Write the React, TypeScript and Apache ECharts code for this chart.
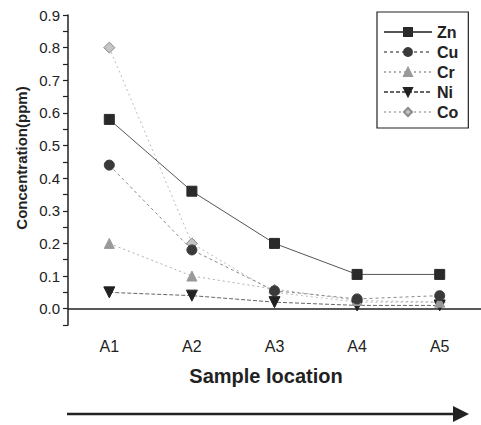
import React, { useEffect, useRef } from "react";
import * as echarts from "echarts";

const categories = ["A1", "A2", "A3", "A4", "A5"];
const seriesNames = ["Zn", "Cu", "Cr", "Ni", "Co"];
const zn = [0.58, 0.36, 0.2, 0.105, 0.105];
const cu = [0.44, 0.18, 0.055, 0.03, 0.04];
const cr = [0.2, 0.1, 0.06, 0.025, 0.02];
const ni = [0.05, 0.04, 0.02, 0.01, 0.01];
const co = [0.8, 0.2, 0.05, 0.02, 0.02];
const yTitle = "Concentration(ppm)";
const xTitle = "Sample location";

const FONT = 'Arial, "Liberation Sans", sans-serif';

export default function App() {
  const ref = useRef<HTMLDivElement>(null);
  useEffect(() => {
    if (!ref.current) return;
    const chart = echarts.init(ref.current, null, { renderer: "svg" });
    const values = [zn, cu, cr, ni, co];
    const styles = [
      { symbol: "rect", size: 10, rotate: 0, color: "#2a2a2a", border: "#2a2a2a", line: "#555", type: "solid" },
      { symbol: "circle", size: 10, rotate: 0, color: "#3a3a3a", border: "#3a3a3a", line: "#8a8a8a", type: [3, 3] },
      { symbol: "triangle", size: 10, rotate: 0, color: "#9a9a9a", border: "#9a9a9a", line: "#b0b0b0", type: [2, 3] },
      { symbol: "triangle", size: 11, rotate: 180, color: "#222", border: "#222", line: "#666", type: [4, 2] },
      { symbol: "diamond", size: 11, rotate: 0, color: "#c4c4c4", border: "#8a8a8a", line: "#bdbdbd", type: [2, 3] },
    ];
    const series = seriesNames.map((name, i) => ({
      name,
      type: "line",
      data: values[i],
      symbol: styles[i].symbol,
      symbolSize: styles[i].size,
      symbolRotate: styles[i].rotate,
      itemStyle: { color: styles[i].color, borderColor: styles[i].border, borderWidth: 1 },
      lineStyle: { color: styles[i].line, width: 1, type: styles[i].type },
      z: 10 - i,
    }));
    chart.setOption({
      animation: false,
      backgroundColor: "#fff",
      textStyle: { fontFamily: FONT },
      grid: { left: 68, top: 15, width: 416, bottom: 100 },
      legend: {
        orient: "vertical",
        left: 377,
        top: 12,
        data: seriesNames,
        itemWidth: 48,
        itemHeight: 10,
        itemGap: 2,
        padding: [11, 10, 7, 6],
        borderColor: "#222",
        borderWidth: 1.2,
        textStyle: { fontSize: 16, fontWeight: "bold", color: "#222", fontFamily: FONT, lineHeight: 18 },
      },
      xAxis: [
        {
          type: "category",
          data: categories,
          boundaryGap: true,
          axisLine: { lineStyle: { color: "#222", width: 1.5 } },
          axisTick: { alignWithLabel: true, length: 6, lineStyle: { color: "#222", width: 1.5 } },
          axisLabel: { fontSize: 16, color: "#222", margin: 13, fontFamily: FONT },
          splitLine: { show: false },
        },
        {
          type: "category",
          data: categories,
          position: "bottom",
          boundaryGap: true,
          axisLine: { show: false },
          axisTick: { alignWithLabel: false, length: 4, lineStyle: { color: "#222", width: 1.2 } },
          axisLabel: { show: false },
          splitLine: { show: false },
        },
      ],
      yAxis: {
        type: "value",
        min: -0.05,
        max: 0.9,
        interval: 0.05,
        axisLine: { show: true, lineStyle: { color: "#222", width: 1.5 } },
        axisTick: { show: true, length: 5, lineStyle: { color: "#222", width: 1.2 } },
        axisLabel: {
          fontSize: 15,
          color: "#222",
          margin: 8,
          fontFamily: FONT,
          formatter: (v: number) => {
            const k = Math.round(v * 20);
            return k >= 0 && k % 2 === 0 ? (k / 20).toFixed(1) : "";
          },
        },
        splitLine: { show: false },
      },
      graphic: [
        {
          type: "text",
          x: 21,
          y: 158,
          rotation: Math.PI / 2,
          style: {
            text: yTitle,
            font: `bold 15px ${FONT}`,
            fill: "#222",
            align: "center",
            verticalAlign: "middle",
          },
        },
        {
          type: "text",
          x: 266,
          y: 376,
          style: {
            text: xTitle,
            font: `bold 20px ${FONT}`,
            fill: "#222",
            align: "center",
            verticalAlign: "middle",
          },
        },
        {
          type: "line",
          shape: { x1: 67, y1: 414, x2: 456, y2: 414 },
          style: { stroke: "#222", lineWidth: 2.5 },
        },
        {
          type: "polygon",
          shape: { points: [[453, 406], [469, 414], [453, 422]] },
          style: { fill: "#222" },
        },
      ],
      series,
    });
    return () => chart.dispose();
  }, []);
  return (
    <div
      ref={ref}
      style={{ position: "fixed", left: 0, top: 0, width: 481, height: 425, background: "#fff" }}
    />
  );
}
